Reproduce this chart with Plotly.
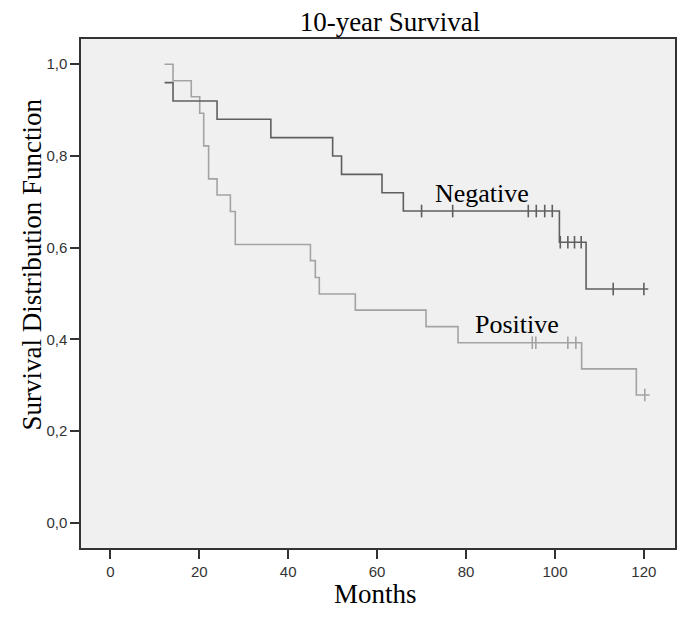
import plotly.graph_objects as go
import numpy as np

# Negative group (event times in months, survival after event)
neg_times = [12.2, 14.1, 24.0, 36.1, 50.0, 52.0, 61.1, 65.9, 101.0, 107.0, 121.0]
neg_surv = [0.96, 0.92, 0.88, 0.84, 0.80, 0.76, 0.72, 0.68, 0.612, 0.51, 0.51]
neg_censor = [70.0, 77.0, 94.0, 95.8, 97.7, 99.4, 101.2, 102.9, 104.4, 105.9, 113.1, 120.0]

# Positive group
pos_times = [12.2, 14.1, 18.2, 20.1, 21.0, 22.1, 24.0, 27.0, 28.1, 45.0, 46.1, 47.0,
             55.1, 71.0, 78.2, 106.0, 118.3, 121.3]
pos_surv = [1.0, 0.964, 0.929, 0.893, 0.822, 0.75, 0.715, 0.679, 0.607, 0.572, 0.535,
            0.499, 0.464, 0.428, 0.393, 0.336, 0.279, 0.279]
pos_censor = [94.9, 95.7, 102.9, 104.7, 120.2]

x_ticks = [0, 20, 40, 60, 80, 100, 120]
y_ticks = [0.0, 0.2, 0.4, 0.6, 0.8, 1.0]
y_ticklabels = ["0,0", "0,2", "0,4", "0,6", "0,8", "1,0"]

NEG_COLOR = "#5f5f5f"
POS_COLOR = "#a3a3a3"

# the page body has an 8px default margin; compensate so the plot lands where the reference has it
PAGE_OFF = 8
W, H = 699 - PAGE_OFF, 625 - PAGE_OFF


def step_value(times, surv, t):
    idx = np.searchsorted(np.array(times), t, side="right") - 1
    return surv[max(idx, 0)]


fig = go.Figure()
for times, surv, cens, color in [(pos_times, pos_surv, pos_censor, POS_COLOR),
                                  (neg_times, neg_surv, neg_censor, NEG_COLOR)]:
    fig.add_trace(go.Scatter(x=times, y=surv, mode="lines", line_shape="hv",
                             line=dict(color=color, width=1.6), hoverinfo="skip",
                             showlegend=False))
    fig.add_trace(go.Scatter(x=cens, y=[step_value(times, surv, c) for c in cens],
                             mode="markers",
                             marker=dict(symbol="line-ns", size=9,
                                         line=dict(color=color, width=1.6)),
                             showlegend=False, hoverinfo="skip"))

serif = "Liberation Serif, Times New Roman, serif"
sans = "Liberation Sans, Arial, sans-serif"

fig.add_annotation(x=83.6, y=0.719, text="Negative", showarrow=False,
                   font=dict(family=serif, size=26, color="#000"),
                   xanchor="center", yanchor="middle")
fig.add_annotation(x=91.4, y=0.432, text="Positive", showarrow=False,
                   font=dict(family=serif, size=26, color="#000"),
                   xanchor="center", yanchor="middle")

fig.add_annotation(x=0.496, y=-0.09, xref="paper", yref="paper", text="Months",
                   showarrow=False, font=dict(family=serif, size=27, color="#000"),
                   xanchor="center", yanchor="middle")
fig.add_annotation(x=-0.0817, y=0.558, xref="paper", yref="paper",
                   text="Survival Distribution Function", textangle=-90,
                   showarrow=False, font=dict(family=serif, size=27, color="#000"),
                   xanchor="center", yanchor="middle")

fig.update_layout(
    width=W, height=H,
    margin=dict(l=81 - PAGE_OFF, r=24, t=39 - PAGE_OFF, b=77),
    paper_bgcolor="white", plot_bgcolor="#f0f0f0",
    title=dict(text="10-year Survival", x=(390 - PAGE_OFF) / W, y=1 - (22 - PAGE_OFF) / H,
               xref="container", yref="container", xanchor="center", yanchor="middle",
               font=dict(family=serif, size=27, color="#000")),
    xaxis=dict(range=[-6.6, 127.0], tickvals=x_ticks, ticks="outside", ticklen=9,
               tickwidth=1.5, tickcolor="#333", showgrid=False, zeroline=False,
               showline=True, linecolor="#333", linewidth=1.5, mirror=True,
               tickfont=dict(family=sans, size=15, color="#333")),
    yaxis=dict(range=[-0.0545, 1.055], tickvals=y_ticks, ticktext=y_ticklabels,
               ticks="outside", ticklen=9, tickwidth=1.5, tickcolor="#333",
               showgrid=False, zeroline=False, showline=True, linecolor="#333",
               linewidth=1.5, mirror=True,
               tickfont=dict(family=sans, size=15, color="#333")),
)

fig.write_html("out.html")
